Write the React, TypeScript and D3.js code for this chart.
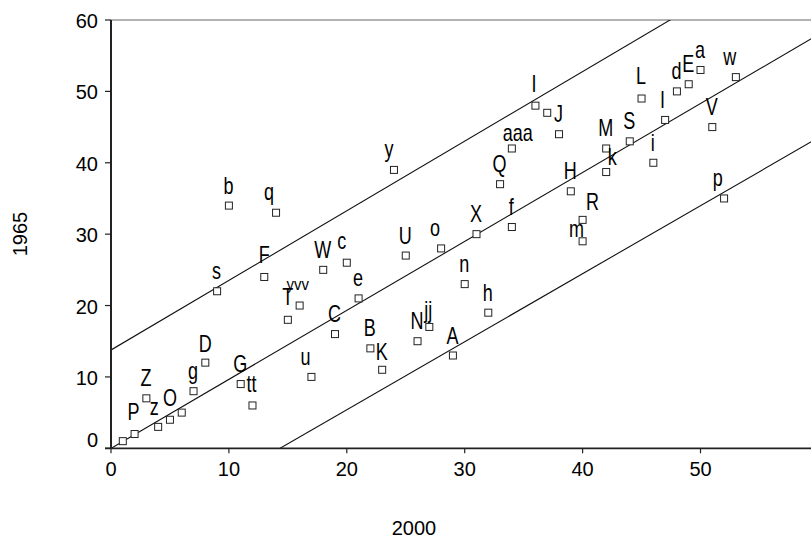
import React from "react";
import * as d3 from "d3";

// ---- data ----
const pointLabels = ["", "P", "Z", "z", "O", "", "g", "D", "s", "b", "G", "tt", "F", "q", "T", "yvv", "u", "W", "C", "c", "e", "B", "K", "y", "U", "N", "jj", "o", "A", "n", "X", "h", "Q", "f", "aaa", "I", "", "J", "H", "R", "m", "M", "k", "S", "L", "i", "I", "d", "E", "a", "V", "p", "w"];
const x2000 = [1, 2, 3, 4, 5, 6, 7, 8, 9, 10, 11, 12, 13, 14, 15, 16, 17, 18, 19, 20, 21, 22, 23, 24, 25, 26, 27, 28, 29, 30, 31, 32, 33, 34, 34, 36, 37, 38, 39, 40, 40, 42, 42, 44, 45, 46, 47, 48, 49, 50, 51, 52, 53];
const y1965 = [1, 2, 7, 3, 4, 5, 8, 12, 22, 34, 9, 6, 24, 33, 18, 20, 10, 25, 16, 26, 21, 14, 11, 39, 27, 15, 17, 28, 13, 23, 30, 19, 37, 31, 42, 48, 47, 44, 36, 32, 29, 42, 38.7, 43, 49, 40, 46, 50, 51, 53, 45, 35, 52];

const xTicks = [0, 10, 20, 30, 40, 50];
const yTicks = [0, 10, 20, 30, 40, 50, 60];

// fitted line and band (intercept, slope)
const lineNames = ["upper", "fit", "lower"];
const lineIntercepts = [13.77, 0, -13.66];
const lineSlopes = [0.975, 0.966, 0.953];

// label placement nudges (layout only): [dx, dy, fontSize, scaleX]
const labelNudge: Record<number, [number, number, number?, number?]> = {
  1: [-1, -14], 3: [-4, -12], 4: [0, -13.5], 7: [0, -10.5], 11: [-1, -13], 12: [0, -13.5],
  13: [-7, -12.5], 14: [0, -15], 15: [-2, -15.5, 17, 0.88], 16: [-6, -12], 19: [-5, -13.5], 22: [-0.5, -10],
  23: [-5, -13], 26: [-1, -9], 27: [-6, -12], 34: [6, -7], 35: [-1.5, -14], 39: [10, -10],
  40: [-6, -4], 42: [6, -7], 44: [-0.5, -14.3], 46: [-2.5, -11.5], 51: [-6.4, -12], 52: [-6, -12],
};

const W = 811;
const H = 540;
const left = 111;
const top = 20;
const bottom = 448.3;
const rightEnd = 111 + 60 * 11.79;

export default function App() {
  const x = d3.scaleLinear().domain([0, 60]).range([left, rightEnd]);
  const y = d3.scaleLinear().domain([0, 60]).range([bottom, top]);
  const font = "'Liberation Sans', Arial, Helvetica, sans-serif";
  const lineGen = d3
    .line<[number, number]>()
    .x((d) => x(d[0]))
    .y((d) => y(d[1]));

  return (
    <svg
      width={W}
      height={H}
      style={{ position: "absolute", left: 0, top: 0, background: "#fff" }}
      fontFamily={font}
    >
      <defs>
        <clipPath id="plotClip">
          <rect x={left} y={top} width={rightEnd - left} height={bottom - top} />
        </clipPath>
      </defs>

      {/* top frame line */}
      <line x1={left} x2={W} y1={top} y2={top} stroke="#666" strokeWidth={1} />

      {/* regression lines */}
      <g clipPath="url(#plotClip)">
        {lineNames.map((n, i) => {
          const xs = [-5, 65];
          const pts: [number, number][] = xs.map((v) => [v, lineIntercepts[i] + lineSlopes[i] * v]);
          return <path key={n} d={lineGen(pts) || ""} fill="none" stroke="#111" strokeWidth={1.1} />;
        })}
      </g>

      {/* markers */}
      {x2000.map((xv, i) => (
        <rect
          key={"m" + i}
          x={x(xv) - 3.5}
          y={y(y1965[i]) - 3.5}
          width={7}
          height={7}
          fill="#fff"
          stroke="#222"
          strokeWidth={1}
        />
      ))}

      {/* point labels */}
      {pointLabels.map((lab, i) => {
        if (!lab) return null;
        const nudge = labelNudge[i] || [-0.5, -12];
        const dx = nudge[0];
        const dy = nudge[1];
        const fs = nudge[2] ?? 24;
        const sx = nudge[3] ?? 0.75;
        return (
          <text
            key={"l" + i}
            transform={`translate(${x(x2000[i]) + dx},${y(y1965[i]) + dy}) scale(${sx},1)`}
            textAnchor="middle"
            fontSize={fs}
            fill="#000"
          >
            {lab}
          </text>
        );
      })}

      {/* axes */}
      <line x1={left} x2={left} y1={top} y2={bottom} stroke="#222" strokeWidth={2} />
      <line x1={left - 6} x2={W} y1={bottom} y2={bottom} stroke="#222" strokeWidth={1.8} />
      {yTicks.map((t) => (
        <g key={"yt" + t}>
          <line x1={left - 6} x2={left} y1={y(t)} y2={y(t)} stroke="#222" strokeWidth={1.2} />
          <text x={98} y={t === 0 ? y(t) - 1 : y(t) + 8} textAnchor="end" fontSize={20} fill="#000">
            {t}
          </text>
        </g>
      ))}
      {xTicks.map((t) => (
        <g key={"xt" + t}>
          <line x1={x(t)} x2={x(t)} y1={bottom} y2={bottom + 5} stroke="#222" strokeWidth={1.2} />
          <text x={x(t)} y={476} textAnchor="middle" fontSize={20} fill="#000">
            {t}
          </text>
        </g>
      ))}

      {/* axis titles */}
      <text x={414} y={535} textAnchor="middle" fontSize={20} fill="#000">
        2000
      </text>
      <text transform={`translate(27,234) rotate(-90)`} textAnchor="middle" fontSize={20} fill="#000">
        1965
      </text>
    </svg>
  );
}
